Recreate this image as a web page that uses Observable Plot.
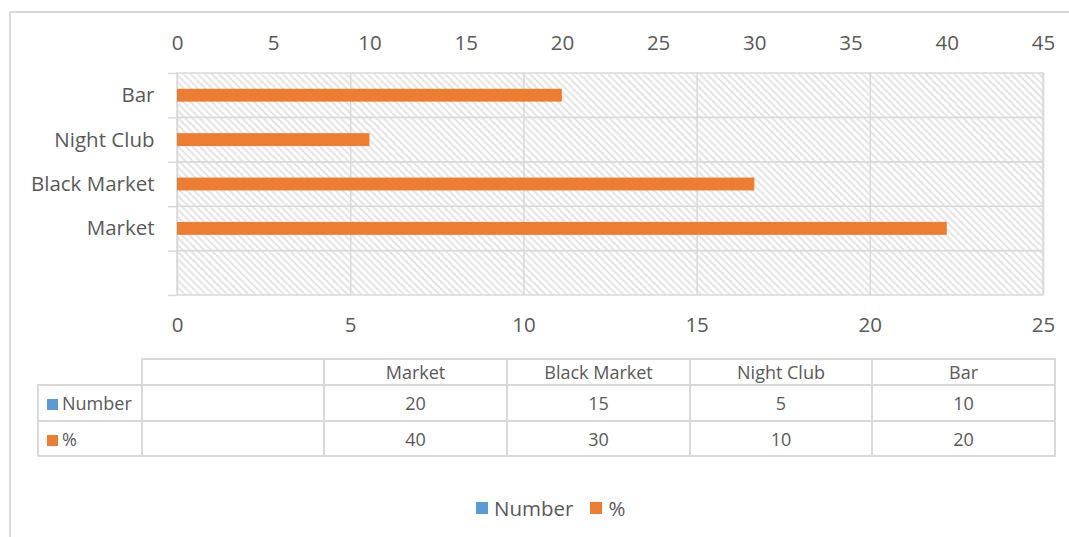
<!DOCTYPE html>
<html><head><meta charset="utf-8">
<script src="https://cdn.jsdelivr.net/npm/d3@7"></script>
<script src="https://cdn.jsdelivr.net/npm/@observablehq/plot@0.6"></script>
<style>
body{margin:0;background:#fff;font-family:"Open Sans",sans-serif;color:#595959;}
#wrap{position:relative;width:1069px;height:537px;overflow:hidden;background:#fff;}
#border{position:absolute;left:9px;top:11px;width:1100px;height:600px;border:2px solid #d9d9d9;box-sizing:border-box;}
#chart{position:absolute;left:0;top:0;}
#table{position:absolute;left:37px;top:358px;width:1019px;table-layout:fixed;border-collapse:collapse;font-size:18px;color:#595959;}
#table td{border:2px solid #d9d9d9;padding:0;text-align:center;white-space:nowrap;line-height:1;}
#table td.key{text-align:left;padding-left:8px;}
#table td.blank{border-top:none;border-left:none;}
.sw{display:inline-block;width:11px;height:11px;margin-right:4px;vertical-align:0px;}
#legend{position:absolute;top:494px;left:476px;display:flex;align-items:center;font-size:20.5px;color:#595959;}
#legend .sw{width:12px;height:12px;margin-right:6px;}
</style></head>
<body><div id="wrap"><div id="border"></div><div id="chart"></div><table id="table"></table><div id="legend"></div></div>
<script>
// ---- data ----
const categories = ["Market", "Black Market", "Night Club", "Bar"];
const numberValues = [20, 15, 5, 10];
const percentValues = [40, 30, 10, 20];
const seriesNames = ["Number", "%"];
const seriesColors = ["#5B9BD5", "#ED7D31"];
const topTicks = [0, 5, 10, 15, 20, 25, 30, 35, 40, 45];
const bottomTicks = [0, 5, 10, 15, 20, 25];

// ---- derived ----
const topMax = topTicks[topTicks.length - 1];
const bottomMax = bottomTicks[bottomTicks.length - 1];
const toTop = v => v * topMax / bottomMax;
const slots = d3.range(categories.length + 1); // slot 0 is the empty band at the bottom
const rows = categories.map((c, i) => ({cat: c, slot: i + 1, num: numberValues[i], pct: percentValues[i]}));

const chart = Plot.plot({
  width: 1069, height: 345,
  marginLeft: 177, marginRight: 26, marginTop: 73, marginBottom: 50,
  style: {fontFamily: '"Open Sans", sans-serif', fontSize: "20.5px", color: "#595959", background: "none"},
  x: {domain: [0, topMax]},
  y: {domain: [0, slots.length]},
  marks: [
    Plot.rect(slots, {x1: 0, x2: topMax, y1: d => d, y2: d => d + 1, fill: "url(#hatch)", stroke: "#d9d9d9", strokeWidth: 1.5}),
    Plot.ruleX(bottomTicks, {x: d => toTop(d), stroke: "#d9d9d9", strokeWidth: 1.5}),
    Plot.rect(rows, {x1: 0, x2: "pct", y1: d => d.slot + 0.355, y2: d => d.slot + 0.645, fill: seriesColors[1]}),
    Plot.axisX({anchor: "top", ticks: topTicks, tickSize: 0, tickPadding: 24, label: null, tickFormat: d => d}),
    Plot.axisX({anchor: "bottom", ticks: bottomTicks.map(toTop), tickSize: 0, tickPadding: 22, label: null, tickFormat: d => Math.round(d * bottomMax / topMax)}),
    Plot.axisY({anchor: "left", ticks: slots.concat([slots.length]), tickSize: 9, tickFormat: () => "", label: null, stroke: "#d9d9d9", strokeWidth: 1.5}),
    Plot.axisY({anchor: "left", ticks: rows.map(r => r.slot + 0.5), tickSize: 0, tickPadding: 23, label: null, tickFormat: d => categories[Math.floor(d) - 1]})
  ]
});
const ns = "http://www.w3.org/2000/svg";
const defs = document.createElementNS(ns, "defs");
defs.innerHTML = '<pattern id="hatch" width="5" height="5" patternUnits="userSpaceOnUse" patternTransform="rotate(-45)"><rect width="5" height="5" fill="#fff"/><line x1="2.5" y1="0" x2="2.5" y2="5" stroke="#dcdcdc" stroke-width="1.6"/></pattern>';
chart.insertBefore(defs, chart.firstChild);
document.getElementById("chart").appendChild(chart);

// ---- data table ----
const colW = [104, 182, 183, 183, 182, 183];
const table = d3.select("#table");
const cg = table.append("colgroup");
colW.forEach(w => cg.append("col").style("width", w + "px"));
const hdr = table.append("tr").style("height", "26px");
hdr.append("td").attr("class", "blank");
hdr.append("td");
categories.forEach(c => hdr.append("td").text(c));
[numberValues, percentValues].forEach((vals, s) => {
  const tr = table.append("tr").style("height", s === 0 ? "36px" : "35px");
  const k = tr.append("td").attr("class", "key");
  k.append("span").attr("class", "sw").style("background", seriesColors[s]);
  k.append("span").text(seriesNames[s]);
  tr.append("td");
  vals.forEach(v => tr.append("td").text(v));
});

// ---- legend ----
const lg = d3.select("#legend");
seriesNames.forEach((n, s) => {
  lg.append("span").attr("class", "sw").style("background", seriesColors[s]);
  lg.append("span").text(n).style("margin-right", s === 0 ? "17px" : "0");
});
</script></body></html>
